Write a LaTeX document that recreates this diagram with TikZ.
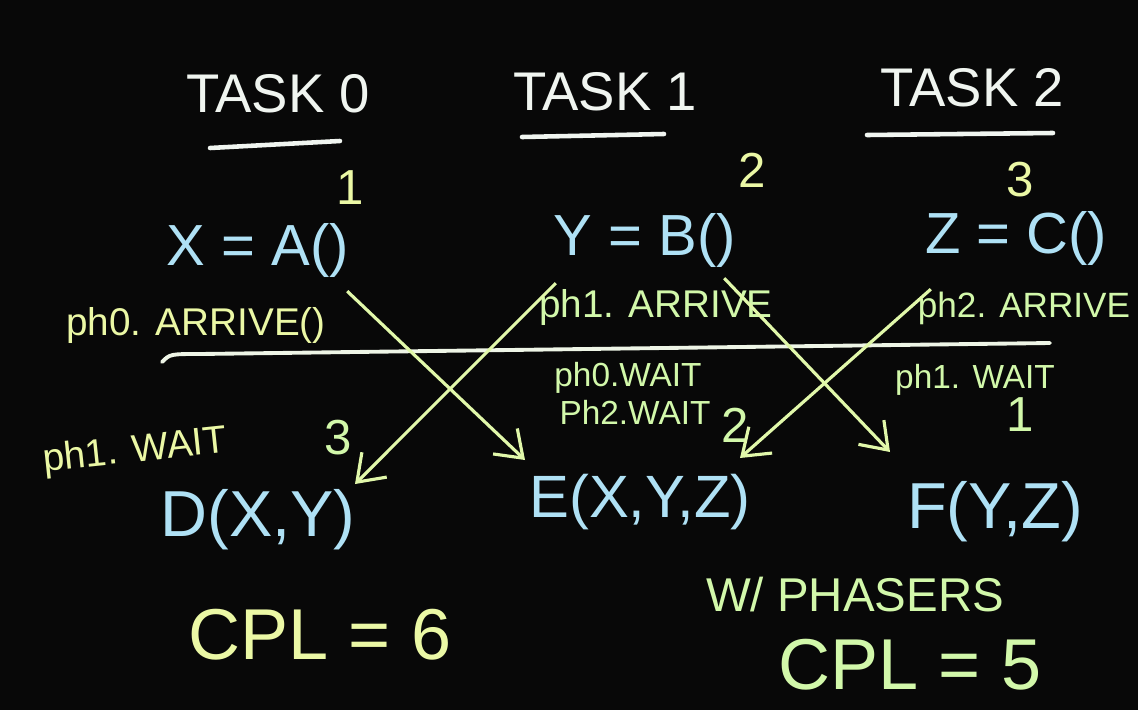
\documentclass[tikz,border=0pt]{standalone}
\usepackage{fontspec}
\setmainfont{Liberation Sans}
\usetikzlibrary{positioning, arrows.meta}
\definecolor{board}{RGB}{8, 8, 8}
\definecolor{chalkwhite}{RGB}{240, 245, 240}
\definecolor{codeblue}{RGB}{175, 225, 245}
\definecolor{noteyellow}{RGB}{235, 248, 165}
\definecolor{notegreen}{RGB}{210, 248, 170}
\definecolor{arrowgreen}{RGB}{225, 248, 170}

\tikzset{
  tasklbl/.style={text=chalkwhite, font=\fontsize{31}{31}\selectfont},
  code/.style={text=codeblue, font=\fontsize{33}{33}\selectfont},
  call/.style={text=codeblue, font=\fontsize{37}{37}\selectfont},
  note/.style={text=noteyellow, font=\fontsize{22}{22}\selectfont},
  smallnote/.style={text=notegreen, font=\fontsize{19}{19}\selectfont},
  count/.style={text=noteyellow, font=\fontsize{28}{28}\selectfont},
  cpl/.style={text=noteyellow, font=\fontsize{41}{41}\selectfont},
  uline/.style={draw=chalkwhite, line width=2.6pt, line cap=round},
  flow/.style={draw=arrowgreen, line width=1.8pt, -{Straight Barb[length=14pt, width=20pt]}}
}

\begin{document}
\begin{tikzpicture}[x=0.02cm, y=-0.02cm]
    \fill[board] (0,0) rectangle (1138,710);
    \useasboundingbox (0,0) rectangle (1138,710);

    % tasks
    \node[tasklbl] (task0) at (278,94) {TASK 0};
    \node[tasklbl] (task1) at (605,92) {TASK 1};
    \node[tasklbl] (task2) at (972,88) {TASK 2};
    \draw[uline] (210,148) -- (340,141);
    \draw[uline] (522,137) -- (664,134);
    \draw[uline] (867,135) -- (1053,133);

    \node[code] (xa) at (258,250) {X = A()};
    \node[code] (yb) at (645,240) {Y = B()};
    \node[code] (zc) at (1016,238) {Z = C()};
    \node[count] (cntA) at (350,188) {1};
    \node[count] (cntB) at (752,170) {2};
    \node[count] (cntC) at (1020,180) {3};

    % arrive
    \node[note] (arr0) at (196,325) {ph0. ARRIVE()};
    \node[note, text=notegreen] (arr1) at (656,308) {ph1. ARRIVE};
    \node[note, text=notegreen, font=\fontsize{20}{20}\selectfont] (arr2) at (1024,308) {ph2. ARRIVE};
    \draw[draw=chalkwhite!85!arrowgreen, line width=2.2pt, line cap=round]
        (162,362) .. controls (170,354) .. (200,354) -- (1050,343);

    % wait
    \node[note, rotate=6] (wait1L) at (135,452) {ph1. WAIT};
    \node[smallnote] (wait0) at (628,378) {ph0.WAIT};
    \node[smallnote] (wait2) at (635,412) {Ph2.WAIT};
    \node[smallnote] (wait1R) at (975,380) {ph1. WAIT};
    \node[count, text=notegreen] (cntD) at (338,438) {3};
    \node[count, text=notegreen] (cntE) at (735,425) {2};
    \node[count, text=notegreen] (cntF) at (1020,415) {1};

    \node[call] (d) at (258,520) {D(X,Y)};
    \node[call, font=\fontsize{34}{34}\selectfont] (e) at (640,502) {E(X,Y,Z)};
    \node[call] (f) at (995,512) {F(Y,Z)};

    \coordinate (tipE1) at (525,460);
    \coordinate (tipD) at (355,484);
    \coordinate (tipF) at (890,452);
    \coordinate (tipE2) at (740,458);
    \draw[flow] (xa.south east) ++(-8,8) -- (tipE1);
    \draw[flow] (yb.south west) ++(8,10) -- (tipD);
    \draw[flow] (yb.south east) ++(-18,5) -- (tipF);
    \draw[flow] (zc.south west) ++(12,18) -- (tipE2);

    % critical path
    \node[cpl] (cpl6) at (320,635) {CPL = 6};
    \node[note, text=notegreen, font=\fontsize{27}{27}\selectfont] (phasers) at (855,595) {W/ PHASERS};
    \node[cpl, text=notegreen] (cpl5) at (910,665) {CPL = 5};
\end{tikzpicture}
\end{document}
